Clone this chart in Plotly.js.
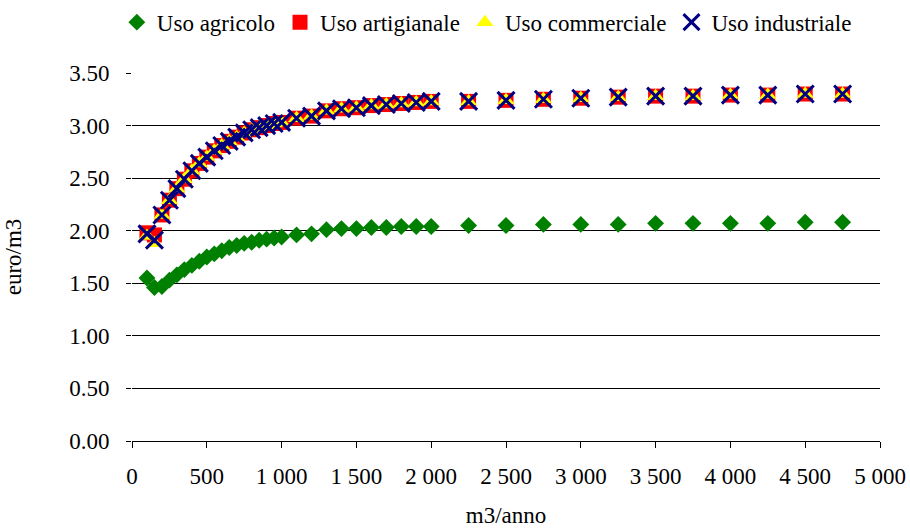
<!DOCTYPE html>
<html>
<head>
<meta charset="utf-8">
<script src="https://cdn.plot.ly/plotly-3.0.1.min.js"></script>
<style>html,body{margin:0;padding:0;background:#fff;}#chart{width:910px;height:528px;}</style>
</head>
<body>
<div id="chart"></div>
<script>
var volumes = [100,150,200,250,300,350,400,450,500,550,600,650,700,750,800,850,900,950,1000,
  1100,1200,1300,1400,1500,1600,1700,1800,1900,2000,
  2250,2500,2750,3000,3250,3500,3750,4000,4250,4500,4750];

var usoAgricolo = [1.55,1.46,1.47,1.53,1.58,1.63,1.67,1.71,1.75,1.78,1.81,1.84,1.86,1.88,1.89,1.91,1.92,1.93,1.94,
  1.96,1.97,2.01,2.02,2.02,2.03,2.03,2.04,2.04,2.04,
  2.05,2.05,2.06,2.06,2.06,2.07,2.07,2.07,2.07,2.08,2.08];

var usoArtigianale = [1.98,1.96,2.15,2.29,2.40,2.49,2.57,2.64,2.70,2.76,2.81,2.85,2.89,2.93,2.96,2.98,3.00,3.02,3.03,
  3.07,3.09,3.14,3.16,3.17,3.19,3.20,3.21,3.22,3.23,
  3.23,3.24,3.25,3.26,3.27,3.28,3.28,3.29,3.29,3.30,3.30];

var usoCommerciale = [1.95,1.88,2.15,2.29,2.40,2.49,2.57,2.64,2.70,2.76,2.81,2.85,2.89,2.93,2.96,2.98,3.00,3.02,3.03,
  3.07,3.09,3.14,3.16,3.17,3.19,3.20,3.21,3.22,3.23,
  3.23,3.24,3.25,3.26,3.27,3.28,3.28,3.29,3.29,3.30,3.30];

var usoIndustriale = [1.97,1.91,2.15,2.29,2.40,2.49,2.57,2.64,2.70,2.76,2.81,2.85,2.89,2.93,2.96,2.98,3.00,3.02,3.03,
  3.07,3.09,3.14,3.16,3.17,3.19,3.20,3.21,3.22,3.23,
  3.23,3.24,3.25,3.26,3.27,3.28,3.28,3.29,3.29,3.30,3.30];

var seriesNames = ['Uso agricolo','Uso artigianale','Uso commerciale','Uso industriale'];

var FONT = '"Liberation Serif", "Times New Roman", serif';
var FS = 23;

var traces = [
  {x: volumes, y: usoAgricolo, name: seriesNames[0], type: 'scatter', mode: 'markers',
   marker: {symbol: 'diamond', size: 13, color: '#008000', line: {width: 0}}},
  {x: volumes, y: usoArtigianale, name: seriesNames[1], type: 'scatter', mode: 'markers',
   marker: {symbol: 'square', size: 15, color: '#FF0000', line: {width: 0}}},
  {x: volumes, y: usoCommerciale, name: seriesNames[2], type: 'scatter', mode: 'markers',
   marker: {symbol: 'triangle-up', size: 15, color: '#FFFF00', line: {width: 0}}},
  {x: volumes, y: usoIndustriale, name: seriesNames[3], type: 'scatter', mode: 'markers',
   marker: {symbol: 'x-thin', size: 17, color: '#000080', line: {width: 3, color: '#000080'}}}
];

var layout = {
  width: 910, height: 528,
  margin: {l: 132, r: 30, t: 73, b: 87, autoexpand: false},
  paper_bgcolor: '#ffffff', plot_bgcolor: '#ffffff',
  font: {family: FONT, size: FS, color: '#000000'},
  separators: '. ',
  showlegend: true,
  legend: {orientation: 'h', x: 0.535, xref: 'container', xanchor: 'center',
           y: 0.958, yref: 'container', yanchor: 'middle',
           font: {family: FONT, size: FS, color: '#000'}, itemwidth: 30,
           bgcolor: 'rgba(0,0,0,0)', tracegroupgap: 0},
  xaxis: {
    range: [0, 5000], dtick: 500, tick0: 0, tickformat: ',d',
    showgrid: false, zeroline: false,
    showline: true, linecolor: '#000', linewidth: 1,
    ticks: 'outside', ticklen: 6, tickcolor: '#000',
    ticklabelstandoff: 8,
    tickfont: {family: FONT, size: FS},
    title: {text: 'm3/anno', font: {family: FONT, size: FS}, standoff: 22}
  },
  yaxis: {
    range: [0, 3.5], dtick: 0.5, tick0: 0, tickformat: '.2f',
    showgrid: true, gridcolor: '#000', gridwidth: 1,
    zeroline: false, showline: false,
    ticks: 'outside', ticklen: 5, tickcolor: '#000',
    ticklabelstandoff: 12,
    tickfont: {family: FONT, size: FS},
    title: {text: 'euro/m3', font: {family: FONT, size: FS}, standoff: 41}
  }
};

Plotly.newPlot('chart', traces, layout, {displayModeBar: false, staticPlot: true});
</script>
</body>
</html>
